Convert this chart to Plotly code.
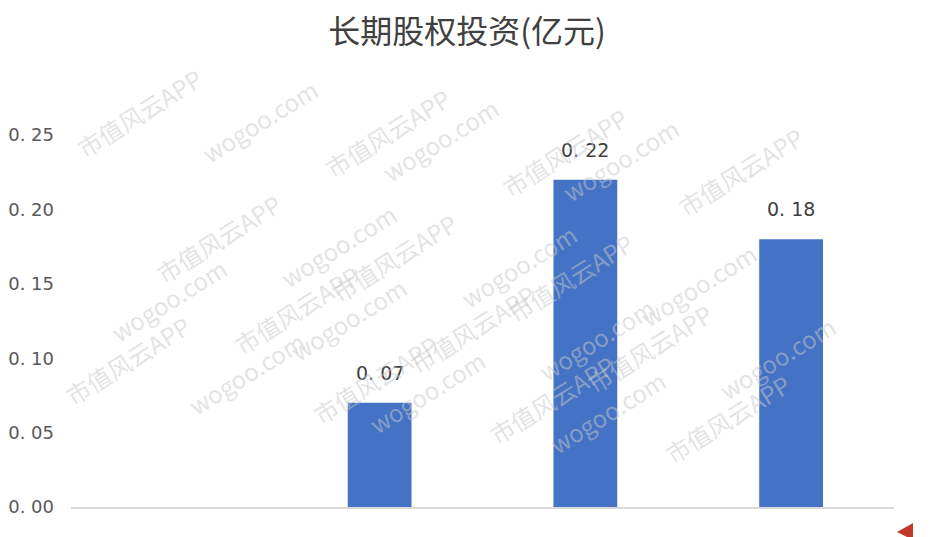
import math
import plotly.graph_objects as go

years = ["2015", "2016", "2017", "2018"]
values = [0.0, 0.07, 0.22, 0.18]
tick_vals = [0.0, 0.05, 0.10, 0.15, 0.20, 0.25]
tick_text = ["0. 00", "0. 05", "0. 10", "0. 15", "0. 20", "0. 25"]
title_text = "长期股权投资(亿元)"
watermarks = ["市值风云APP", "wogoo.com"]

labels = [("" if v == 0 else f"{v:.2f}".replace(".", ". ")) for v in values]

W, H = 942, 537
OFF = 8  # page body margin offset
L, R, T, B = 71 - OFF, 48 + OFF, 100 - OFF, 30 + OFF
pw, ph = W - L - R, H - T - B


def px2paper(px, py):
    return (px - OFF - L) / pw, (H - B - (py - OFF)) / ph


fig = go.Figure()
fig.add_trace(go.Bar(
    x=years, y=values,
    marker=dict(color="#4472C4", line=dict(width=0)),
))

ann = []
# data labels placed through the axes (category index)
for k, (v, lab) in enumerate(zip(values, labels)):
    if lab:
        ann.append(dict(x=k, y=v, xref="x", yref="y", text=lab, showarrow=False,
                        yanchor="bottom", yshift=17,
                        font=dict(size=19, color="#404040", family="DejaVu Sans")))

# faint diagonal watermarks (decoration, staggered pixel lattice converted to paper coords)
ang = math.radians(32)
d = (math.cos(ang), -math.sin(ang))
n = (math.sin(ang), math.cos(ang))
along, perp = 200, 74
for j in range(-30, 30):
    for i in range(-30, 30):
        s = i * along + (j % 2) * along / 2
        px = 68 + s * d[0] + j * perp * n[0]
        py = 58 + s * d[1] + j * perp * n[1]
        if 55 <= px <= W - 55 and 25 <= py <= H - 25:
            x, y = px2paper(px, py)
            ann.append(dict(
                xref="paper", yref="paper", x=x, y=y,
                text=watermarks[j % 2], showarrow=False, textangle=-32,
                font=dict(size=24, color="rgba(200,200,200,0.5)", family="Noto Sans CJK SC"),
            ))
fig.update_layout(annotations=ann)

# thin frame line at right edge of the picture
xr, _ = px2paper(939.5, 0)
fig.add_shape(type="line", xref="paper", yref="paper", x0=xr, x1=xr,
              y0=px2paper(0, -10)[1], y1=px2paper(0, H + 10)[1],
              line=dict(color="#d0d0d0", width=1))
# small red corner mark at bottom right
p1, p2, p3 = px2paper(897, 532), px2paper(913, 523), px2paper(913, 540)
fig.add_shape(type="path", xref="paper", yref="paper",
              path=f"M {p1[0]},{p1[1]} L {p2[0]},{p2[1]} L {p3[0]},{p3[1]} Z",
              fillcolor="#c0392b", line=dict(width=0))

fig.update_layout(
    width=W, height=H,
    margin=dict(l=L, r=R, t=T, b=B),
    paper_bgcolor="white", plot_bgcolor="rgba(0,0,0,0)",
    bargap=0.69,
    showlegend=False,
    title=dict(text=title_text, x=(467 - OFF) / W, xanchor="center", y=1 - (32 - OFF) / H, yanchor="middle",
               font=dict(size=32, color="#404040", family="Noto Sans CJK SC")),
    font=dict(family="DejaVu Sans"),
)
fig.update_xaxes(
    type="category", automargin=False,
    showline=True, linecolor="#d9d9d9", linewidth=1.5,
    showgrid=False, ticks="", ticklabelstandoff=21,
    tickfont=dict(size=19, color="#595959", family="DejaVu Sans"),
)
fig.update_yaxes(
    automargin=False,
    range=[0, ph / 1488], showgrid=False, zeroline=False, showline=False,
    tickvals=tick_vals, ticktext=tick_text, ticks="", ticklabelstandoff=16,
    tickfont=dict(size=18, color="#595959", family="DejaVu Sans"),
)

fig.write_html("out.html")
